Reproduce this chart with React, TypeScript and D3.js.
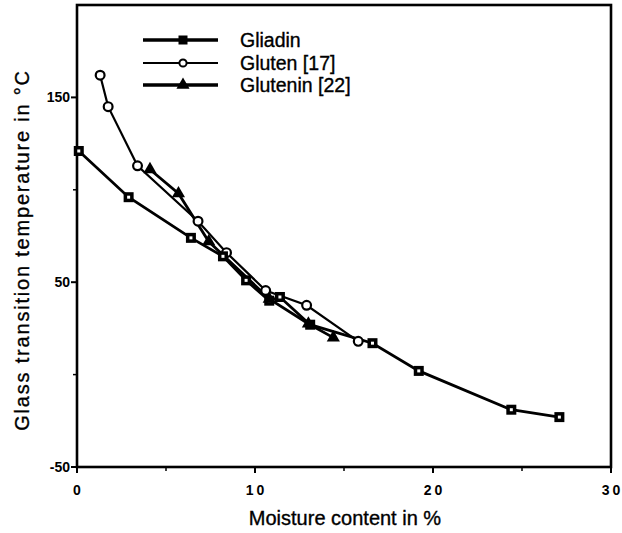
import React from "react";
import * as d3 from "d3";

const gliadinX = [0.1, 2.9, 6.4, 8.2, 9.5, 10.8, 11.4, 13.1, 16.6, 19.2, 24.4, 27.1];
const gliadinY = [121, 96, 74, 64, 51, 40, 42, 27, 17, 2, -19, -23];
const glutenX = [1.3, 1.75, 3.4, 6.8, 8.4, 10.6, 12.9, 15.8];
const glutenY = [162, 145, 113, 83, 66, 45.5, 37.5, 18];
const gluteninX = [4.1, 5.7, 7.4, 10.8, 13.0, 14.4];
const gluteninY = [111, 98, 72, 41, 27.5, 20];

const xTicksMajor = [0, 10, 20, 30];
const xTicksMinor = [5, 15, 25];
const yTicksMajor = [-50, 50, 150];
const yTicksMinor = [0, 100];

const legendLabels = ["Gliadin", "Gluten [17]", "Glutenin [22]"];

const W = 622;
const H = 533;
const left = 77, right = 611, top = 5, bottom = 467;

export default function App() {
  const x = d3.scaleLinear().domain([0, 30]).range([left, right]);
  const y = d3.scaleLinear().domain([-50, 200]).range([bottom, top]);
  const line = d3.line<[number, number]>().x(d => x(d[0])).y(d => y(d[1]));
  const zip = (a: number[], b: number[]) => a.map((v, i) => [v, b[i]] as [number, number]);
  const gli = zip(gliadinX, gliadinY);
  const glu = zip(glutenX, glutenY);
  const glt = zip(gluteninX, gluteninY);
  const tri = d3.symbol().type(d3.symbolTriangle).size(75)() as string;

  const square = (cx: number, cy: number, k: string) => (
    <g key={k}>
      <rect x={cx - 5} y={cy - 5} width={10} height={10} fill="#000" />
      <rect x={cx - 1.5} y={cy - 1.5} width={3} height={3} fill="#fff" />
    </g>
  );
  const circle = (cx: number, cy: number, k: string) => (
    <circle key={k} cx={cx} cy={cy} r={4.4} fill="#fff" stroke="#000" strokeWidth={2.2} />
  );
  const triangle = (cx: number, cy: number, k: string) => (
    <path key={k} d={tri} transform={`translate(${cx},${cy})`} fill="#000" />
  );

  const legY = [40, 63, 85];
  const legX0 = 143, legX1 = 218, legM = 183, legT = 240;
  const txt = { stroke: "#000", strokeWidth: 0.35 } as const;

  return (
    <svg width={W} height={H} style={{ position: "absolute", left: 0, top: 0, background: "#fff" }}
      fontFamily="'Liberation Sans', Arial, sans-serif">
      <rect x={0} y={0} width={W} height={H} fill="#fff" />
      {/* frame */}
      <rect x={left} y={top} width={right - left} height={bottom - top} fill="none" stroke="#000" strokeWidth={2.6} />
      {/* x ticks */}
      {xTicksMajor.map(t => (
        <g key={"xt" + t}>
          <line x1={x(t)} x2={x(t)} y1={bottom} y2={bottom + 6} stroke="#000" strokeWidth={2} />
          <text x={x(t) + 1.5} y={bottom + 28} textAnchor="middle" fontSize={14} fontWeight="bold" letterSpacing={3}>{t}</text>
        </g>
      ))}
      {xTicksMinor.map(t => (
        <line key={"xm" + t} x1={x(t)} x2={x(t)} y1={bottom} y2={bottom + 4} stroke="#000" strokeWidth={1.5} />
      ))}
      {yTicksMajor.map(t => (
        <g key={"yt" + t}>
          <line x1={left - 6} x2={left} y1={y(t)} y2={y(t)} stroke="#000" strokeWidth={2} />
          <text x={left - 7} y={y(t) + 5} textAnchor="end" fontSize={14} fontWeight="bold">{t}</text>
        </g>
      ))}
      {yTicksMinor.map(t => (
        <line key={"ym" + t} x1={left - 4} x2={left} y1={y(t)} y2={y(t)} stroke="#000" strokeWidth={1.5} />
      ))}
      {/* axis titles */}
      <text x={345} y={525} textAnchor="middle" fontSize={20} {...txt}>Moisture content in %</text>
      <text transform={`translate(29,250) rotate(-90)`} textAnchor="middle" fontSize={20} letterSpacing={1.8} {...txt}>
        Glass transition temperature in °C
      </text>
      {/* lines */}
      <path d={line(gli) || ""} fill="none" stroke="#000" strokeWidth={2.8} />
      <path d={line(glu) || ""} fill="none" stroke="#000" strokeWidth={2.2} />
      <path d={line(glt) || ""} fill="none" stroke="#000" strokeWidth={2.8} />
      {glu.map((d, i) => circle(x(d[0]), y(d[1]), "c" + i))}
      {gli.map((d, i) => square(x(d[0]), y(d[1]), "s" + i))}
      {glt.map((d, i) => triangle(x(d[0]), y(d[1]), "t" + i))}
      {/* legend */}
      <g>
        <line x1={legX0} x2={legX1} y1={legY[0]} y2={legY[0]} stroke="#000" strokeWidth={3.5} />
        <rect x={legM - 4.5} y={legY[0] - 4.5} width={9} height={9} fill="#000" />
        <text x={legT} y={legY[0] + 7} fontSize={19.5} {...txt}>{legendLabels[0]}</text>
        <line x1={legX0} x2={legX1} y1={legY[1]} y2={legY[1]} stroke="#000" strokeWidth={2} />
        <circle cx={legM} cy={legY[1]} r={3.6} fill="#fff" stroke="#000" strokeWidth={2} />
        <text x={legT} y={legY[1] + 7} fontSize={19.5} {...txt}>{legendLabels[1]}</text>
        <line x1={legX0} x2={legX1} y1={legY[2]} y2={legY[2]} stroke="#000" strokeWidth={3.5} />
        <path d={tri} transform={`translate(${legM},${legY[2]})`} fill="#000" />
        <text x={legT} y={legY[2] + 7} fontSize={19.5} {...txt}>{legendLabels[2]}</text>
      </g>
    </svg>
  );
}
